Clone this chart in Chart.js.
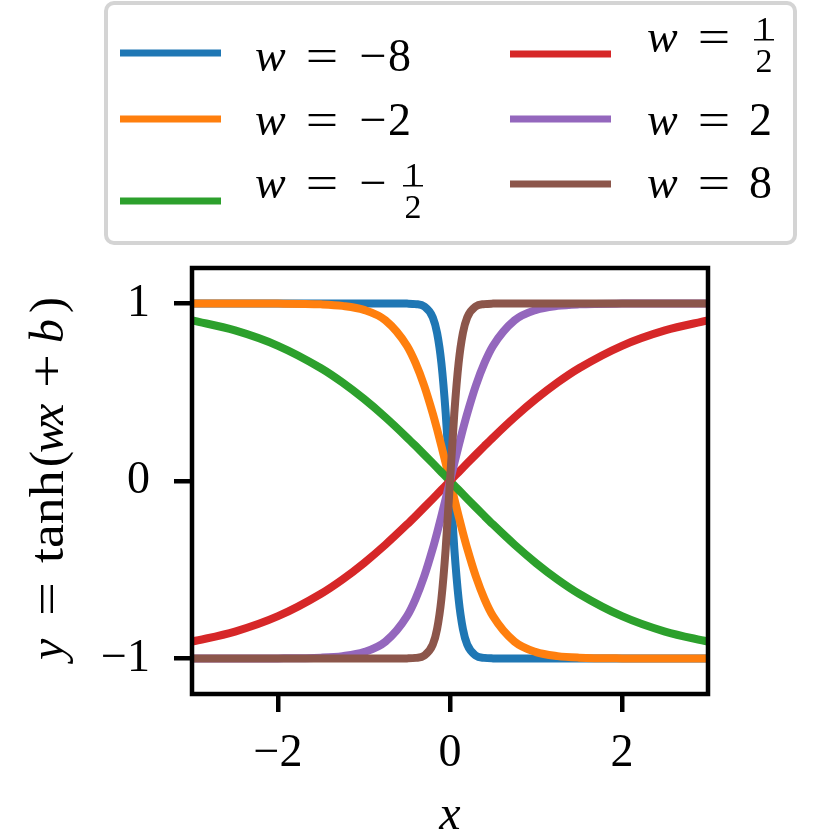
<!DOCTYPE html>
<html><head><meta charset="utf-8">
<script src="https://cdn.jsdelivr.net/npm/chart.js@4"></script>
<style>html,body{margin:0;padding:0;background:#fff}#wrap{width:833px;height:836px;position:relative}</style>
</head><body><div id="wrap"><canvas id="c" width="833" height="836"></canvas></div>
<script>
// ---- data ----
const xs = [-3,-2.5,-2,-1.5,-1.25,-1,-0.75,-0.5,-0.4,-0.3,-0.2,-0.15,-0.1,-0.05,0,0.05,0.1,0.15,0.2,0.3,0.4,0.5,0.75,1,1.25,1.5,2,2.5,3];
const yWm8 = [1,1,1,1,1,1,1,0.9993,0.9967,0.9837,0.9217,0.8337,0.664,0.3799,0,-0.3799,-0.664,-0.8337,-0.9217,-0.9837,-0.9967,-0.9993,-1,-1,-1,-1,-1,-1,-1];
const yWm2 = [1,0.9999,0.9993,0.9951,0.9866,0.964,0.9051,0.7616,0.664,0.537,0.3799,0.2913,0.1974,0.0997,0,-0.0997,-0.1974,-0.2913,-0.3799,-0.537,-0.664,-0.7616,-0.9051,-0.964,-0.9866,-0.9951,-0.9993,-0.9999,-1];
const yWmHalf = [0.9051,0.8483,0.7616,0.6351,0.5546,0.4621,0.3584,0.2449,0.1974,0.1489,0.0997,0.0749,0.05,0.025,0,-0.025,-0.05,-0.0749,-0.0997,-0.1489,-0.1974,-0.2449,-0.3584,-0.4621,-0.5546,-0.6351,-0.7616,-0.8483,-0.9051];
const yWHalf = [-0.9051,-0.8483,-0.7616,-0.6351,-0.5546,-0.4621,-0.3584,-0.2449,-0.1974,-0.1489,-0.0997,-0.0749,-0.05,-0.025,0,0.025,0.05,0.0749,0.0997,0.1489,0.1974,0.2449,0.3584,0.4621,0.5546,0.6351,0.7616,0.8483,0.9051];
const yW2 = [-1,-0.9999,-0.9993,-0.9951,-0.9866,-0.964,-0.9051,-0.7616,-0.664,-0.537,-0.3799,-0.2913,-0.1974,-0.0997,0,0.0997,0.1974,0.2913,0.3799,0.537,0.664,0.7616,0.9051,0.964,0.9866,0.9951,0.9993,0.9999,1];
const yW8 = [-1,-1,-1,-1,-1,-1,-1,-0.9993,-0.9967,-0.9837,-0.9217,-0.8337,-0.664,-0.3799,0,0.3799,0.664,0.8337,0.9217,0.9837,0.9967,0.9993,1,1,1,1,1,1,1];
const seriesNames = ['w = −8','w = −2','w = −1/2','w = 1/2','w = 2','w = 8'];
const seriesValues = [yWm8, yWm2, yWmHalf, yWHalf, yW2, yW8];
const xTickValues = [-2, 0, 2];
const yTickValues = [-1, 0, 1];
const xTitle = 'x';
const yTitleParts = ['y', '=', 'tanh', '(', 'w', 'x', '+', 'b', ')'];

const colors = ['#1f77b4','#ff7f0e','#2ca02c','#d62728','#9467bd','#8c564b'];
const SERIF = '"Liberation Serif", "DejaVu Serif", serif';

const datasets = seriesValues.map((ys, i) => ({
  label: seriesNames[i],
  data: xs.map((x, k) => ({x: x, y: ys[k]})),
  borderColor: colors[i],
  backgroundColor: colors[i],
  borderWidth: 8,
  pointRadius: 0,
  showLine: true,
  fill: false,
  cubicInterpolationMode: 'monotone',
  order: seriesValues.length - i
}));

function fmt(v){ return v < 0 ? '−' + Math.abs(v) : String(v); }
function setFont(ctx, it, size){ ctx.font = (it ? 'italic ' : '') + size + 'px ' + SERIF; }
// draw text centred at cx, stretched horizontally by sx
function stretched(ctx, t, cx, y, sx){
  ctx.save();
  ctx.translate(cx, y);
  ctx.scale(sx, 1);
  ctx.textAlign = 'center';
  ctx.fillText(t, 0, 0);
  ctx.restore();
}

const deco = {
  id: 'deco',
  afterDatasetsDraw(chart){
    const {ctx, chartArea: a} = chart;
    ctx.save();
    ctx.strokeStyle = '#000';
    ctx.lineWidth = 4.5;
    ctx.strokeRect(a.left, a.top, a.right - a.left, a.bottom - a.top);
    ctx.restore();
  },
  afterDraw(chart){
    const ctx = chart.ctx;
    ctx.save();
    // legend box
    ctx.fillStyle = 'rgba(255,255,255,0.8)';
    ctx.strokeStyle = '#d4d4d4';
    ctx.lineWidth = 4;
    ctx.beginPath();
    ctx.roundRect(106, 3, 689, 240, 8);
    ctx.fill();
    ctx.stroke();

    const size = 46, fsize = 34;
    // handle x, handle y, text x, text baseline
    const rows = [
      {i:0, hx:120, hy:53, tx:255, ty:71},
      {i:1, hx:120, hy:119, tx:255, ty:135},
      {i:2, hx:120, hy:201, tx:255, ty:198},
      {i:3, hx:510, hy:54, tx:647, ty:52},
      {i:4, hx:510, hy:119, tx:647, ty:135},
      {i:5, hx:510, hy:184, tx:647, ty:198}
    ];
    for (const r of rows){
      ctx.strokeStyle = colors[r.i];
      ctx.lineWidth = 7;
      ctx.beginPath();
      ctx.moveTo(r.hx, r.hy);
      ctx.lineTo(r.hx + 101, r.hy);
      ctx.stroke();
      ctx.fillStyle = '#000';
      ctx.textBaseline = 'alphabetic';
      ctx.textAlign = 'left';
      const rhs = seriesNames[r.i].split('= ')[1];
      const neg = rhs.startsWith('−');
      const val = neg ? rhs.slice(1) : rhs;
      setFont(ctx, true, size);
      ctx.fillText('w', r.tx, r.ty);
      setFont(ctx, false, size);
      stretched(ctx, '=', r.tx + 67, r.ty, 1.25);
      let off = 102;
      if (neg){ stretched(ctx, '−', r.tx + 118, r.ty, 1.05); off = 133; }
      if (val.includes('/')){
        const [n, d] = val.split('/');
        const cx = r.tx + off + (neg ? 25 : 15);
        setFont(ctx, false, fsize);
        ctx.textAlign = 'center';
        ctx.fillText(n, cx, r.ty - 12);
        ctx.fillText(d, cx, r.ty + 20);
        ctx.fillRect(cx - 10, r.ty - 13, 20, 1.5);
      } else {
        ctx.textAlign = 'left';
        ctx.fillText(val, r.tx + off, r.ty);
      }
    }
    ctx.restore();

    // y-axis title (rotated), pieces placed along the axis
    ctx.save();
    ctx.translate(63, 660);
    ctx.rotate(-Math.PI/2);
    ctx.fillStyle = '#000';
    ctx.textBaseline = 'alphabetic';
    ctx.textAlign = 'left';
    const tsz = 48;
    const offs = [0, 45, 97, 193, 207, 235, 273, 317, 347];
    const ital = [true, false, false, false, true, true, false, true, false];
    yTitleParts.forEach((p, k) => {
      setFont(ctx, ital[k], tsz);
      if (p === '=' || p === '+'){
        ctx.save();
        ctx.translate(offs[k] + 16, 0);
        ctx.scale(1.25, 1);
        ctx.textAlign = 'center';
        ctx.fillText(p, 0, 0);
        ctx.restore();
      } else if (p === 'tanh'){
        ctx.save();
        ctx.scale(1.12, 1);
        ctx.fillText(p, offs[k] / 1.12, 0);
        ctx.restore();
      } else {
        ctx.fillText(p, offs[k], 0);
      }
    });
    ctx.restore();

    // x-axis title
    ctx.save();
    ctx.fillStyle = '#000';
    ctx.textAlign = 'center';
    ctx.textBaseline = 'alphabetic';
    setFont(ctx, true, 48);
    const a = chart.chartArea;
    ctx.fillText(xTitle, (a.left + a.right)/2, 829);
    ctx.restore();
  }
};

new Chart(document.getElementById('c'), {
  type: 'scatter',
  data: { datasets },
  plugins: [deco],
  options: {
    responsive: false,
    animation: false,
    events: [],
    layout: { padding: { top: 268, right: 125, left: 0, bottom: 0 } },
    plugins: { legend: { display: false }, tooltip: { enabled: false } },
    scales: {
      x: {
        type: 'linear', min: -3, max: 3,
        afterBuildTicks: s => { s.ticks = xTickValues.map(v => ({value: v})); },
        afterFit: s => { s.height = 142; },
        grid: { display: true, drawOnChartArea: false, drawTicks: true, tickLength: 18, lineWidth: 4.5, color: '#000' },
        border: { display: false },
        ticks: { color: '#000', font: { family: SERIF, size: 46 }, padding: 14, maxRotation: 0, callback: v => fmt(v) }
      },
      y: {
        type: 'linear', min: -1.2, max: 1.2,
        afterBuildTicks: s => { s.ticks = yTickValues.map(v => ({value: v})); },
        afterFit: s => { s.width = 192; },
        grid: { display: true, drawOnChartArea: false, drawTicks: true, tickLength: 18, lineWidth: 4.5, color: '#000' },
        border: { display: false },
        ticks: { color: '#000', font: { family: SERIF, size: 46 }, padding: 24, callback: v => fmt(v) }
      }
    }
  }
});
</script>
</body></html>
